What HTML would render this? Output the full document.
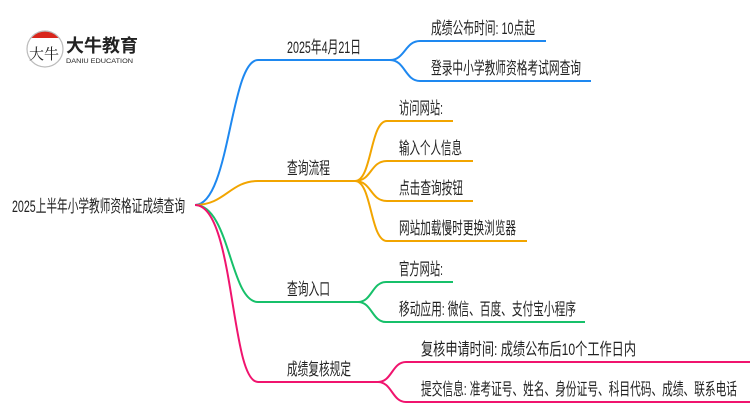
<!DOCTYPE html>
<html><head><meta charset="utf-8"><style>
html,body{margin:0;padding:0;background:#fff;width:750px;height:410px;overflow:hidden}
text{font-family:"Liberation Sans","Noto Sans CJK SC",sans-serif;font-size:17px;fill:#222}
</style></head><body>
<svg width="750" height="410" viewBox="0 0 750 410" xmlns="http://www.w3.org/2000/svg">
<g>
<path d="M31 38 a17 17 0 0 1 28 0 z" fill="#d9261c"/>
<circle cx="45" cy="49" r="18" fill="none" stroke="#bbb" stroke-width="1.2"/>
<text x="29" y="59" style="font-size:15px;font-family:'Noto Serif CJK SC',serif" fill="#111">大牛</text>
<text x="66" y="52" style="font-size:18px;font-weight:bold" fill="#222">大牛教育</text>
<text x="66" y="63" style="font-size:6.5px" fill="#333" textLength="67" lengthAdjust="spacingAndGlyphs">DANIU EDUCATION</text>
</g>
<g fill="none" stroke-width="2">
<path d="M195 205 C230 205 230 60 258 60 L390 60" stroke="#1e88f0"/>
<path d="M390 60 C405 60 405 41 420 41 L546 41" stroke="#1e88f0"/>
<path d="M390 60 C405 60 405 81 420 81 L591 81" stroke="#1e88f0"/>
<path d="M195 205 C225 205 230 181 258 181 L355 181" stroke="#f2a500"/>
<path d="M355 181 C372 181 370 121 387 121 L453 121" stroke="#f2a500"/>
<path d="M355 181 C372 181 370 161 387 161 L473 161" stroke="#f2a500"/>
<path d="M355 181 C372 181 370 201 387 201 L473 201" stroke="#f2a500"/>
<path d="M355 181 C372 181 370 241 387 241 L527 241" stroke="#f2a500"/>
<path d="M195 205 C230 205 230 302 258 302 L358 302" stroke="#17c06a"/>
<path d="M358 302 C372 302 372 282 386 282 L453 282" stroke="#17c06a"/>
<path d="M358 302 C372 302 372 322 386 322 L585 322" stroke="#17c06a"/>
<path d="M195 205 C235 205 230 382 258 382 L378 382" stroke="#f0146e"/>
<path d="M378 382 C392 382 392 362 406 362 L750 362" stroke="#f0146e"/>
<path d="M378 382 C392 382 392 402 406 402 L750 402" stroke="#f0146e"/>
</g>
<text x="12" y="212" textLength="173" lengthAdjust="spacingAndGlyphs">2025上半年小学教师资格证成绩查询</text>
<text x="287" y="53" textLength="74" lengthAdjust="spacingAndGlyphs">2025年4月21日</text>
<text x="287" y="174" textLength="43" lengthAdjust="spacingAndGlyphs">查询流程</text>
<text x="287" y="295" textLength="43" lengthAdjust="spacingAndGlyphs">查询入口</text>
<text x="287" y="375" textLength="64" lengthAdjust="spacingAndGlyphs">成绩复核规定</text>
<text x="431" y="34" textLength="104" lengthAdjust="spacingAndGlyphs">成绩公布时间: 10点起</text>
<text x="431" y="74" textLength="150" lengthAdjust="spacingAndGlyphs">登录中小学教师资格考试网查询</text>
<text x="399" y="114" textLength="44" lengthAdjust="spacingAndGlyphs">访问网站:</text>
<text x="399" y="154" textLength="63" lengthAdjust="spacingAndGlyphs">输入个人信息</text>
<text x="399" y="194" textLength="64" lengthAdjust="spacingAndGlyphs">点击查询按钮</text>
<text x="399" y="234" textLength="117" lengthAdjust="spacingAndGlyphs">网站加载慢时更换浏览器</text>
<text x="399" y="275" textLength="44" lengthAdjust="spacingAndGlyphs">官方网站:</text>
<text x="399" y="315" textLength="177" lengthAdjust="spacingAndGlyphs">移动应用: 微信、百度、支付宝小程序</text>
<text x="421" y="355" textLength="215" lengthAdjust="spacingAndGlyphs">复核申请时间: 成绩公布后10个工作日内</text>
<text x="421" y="395" textLength="316" lengthAdjust="spacingAndGlyphs">提交信息: 准考证号、姓名、身份证号、科目代码、成绩、联系电话</text>
</svg>
</body></html>
